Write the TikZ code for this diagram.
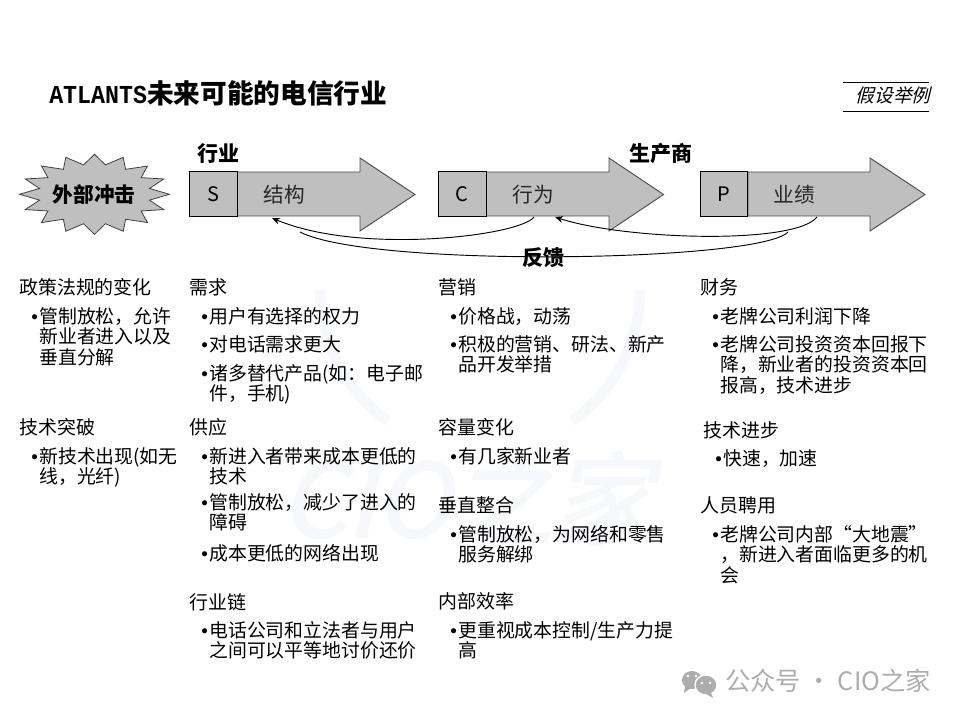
\documentclass[tikz,border=0pt]{standalone}
\usepackage{fontspec}
\setmainfont{Noto Sans CJK SC}
\newfontfamily\slantcjk[FakeSlant=0.25]{Noto Sans CJK SC}
\newfontfamily\slantbold[FakeSlant=0.2,FakeBold=2]{Noto Sans CJK SC}
\newfontfamily\titlemono[FakeStretch=0.9]{Liberation Mono}
\newfontfamily\bulfont{Liberation Sans}
\newcommand{\bulmark}{\makebox[6pt][l]{\bulfont •}}
\newcommand{\contind}{\hspace*{6pt}}
\newcommand{\itemfont}{\fontsize{14.15}{15.4}\selectfont\setlength{\lineskiplimit}{-20pt}}
\usetikzlibrary{arrows.meta}
\definecolor{barfill}{HTML}{BFBFBF}
\definecolor{wm}{HTML}{ADADAD}
\definecolor{wmfaint}{HTML}{F7F8FB}
\tikzset{
  x=0.75pt,y=-0.75pt,
  head/.style={anchor=base west,inner sep=0pt,font=\fontsize{14.2}{15}\selectfont},
  item/.style={anchor=north west,inner sep=0pt,align=left,font=\itemfont},
  band/.style={draw=black!70,fill=barfill,line width=0.7pt},
  lettbox/.style={draw=black,fill=barfill,line width=0.8pt,minimum width=35.6pt,minimum height=33.4pt,inner sep=0pt,font=\fontsize{15}{16}\selectfont},
  barlabel/.style={inner sep=0pt,text=black!85,font=\fontsize{15.5}{16}\selectfont},
  grouplabel/.style={inner sep=0pt,font=\fontsize{15.75}{17}\selectfont\bfseries},
  fb/.style={line width=0.7pt,black},
  fbtip/.style={fb,-{Stealth[length=6pt,width=5pt]}},
}
\begin{document}
\begin{tikzpicture}
\useasboundingbox (0,0) rectangle (960,720);
% faint watermark
\draw[wmfaint,line width=8pt] (640,290) arc[start angle=0,delta angle=55,radius=160];
\draw[wmfaint,line width=8pt] (320,290) arc[start angle=180,delta angle=-55,radius=160];
\node[inner sep=0pt,text=wmfaint,font=\fontsize{76}{76}\selectfont\slantbold] (wmk) at (468,498) {CIO之家};
% title
\node[anchor=base west,inner sep=0pt] (title) at (49,104) {{\titlemono\bfseries\fontsize{19.4}{20}\selectfont ATLANTS}{\fontsize{20}{22}\selectfont\bfseries 未来可能的电信行业}};
% stamp
\coordinate (st1) at (843,82); \coordinate (st2) at (929,82);
\coordinate (st3) at (843,111); \coordinate (st4) at (929,111);
\draw[line width=0.6pt] (st1) -- (st2);
\draw[line width=0.6pt] (st3) -- (st4);
\node[inner sep=0pt,font=\fontsize{14}{16}\selectfont\slantcjk] (stamp) at (893,95) {假设举例};
% star
\draw[draw=black!75,fill=barfill,line width=0.6pt] (169.5,194.3)
  \foreach \k in {0,...,15} { -- ({94.5+56*cos(\k*22.5+11.25)},{194.3+30*sin(\k*22.5+11.25)}) -- ({94.5+75*cos(\k*22.5+22.5)},{194.3+40*sin(\k*22.5+22.5)}) } -- cycle;
\node[inner sep=0pt,font=\fontsize{15.5}{16}\selectfont\bfseries] (shock) at (94,195) {外部冲击};
% bands
\draw[band] (237,172) -- (360,172) -- (360,158) -- (415,194.5) -- (360,231) -- (360,216) -- (237,216) -- cycle;
\draw[band] (486,172) -- (609,172) -- (609,158) -- (663.5,194.5) -- (609,231) -- (609,216) -- (486,216) -- cycle;
\draw[band] (748,172) -- (870,172) -- (870,158) -- (925,194.5) -- (870,231) -- (870,216) -- (748,216) -- cycle;
\node[lettbox] (S) at (213.5,194) {S};
\node[lettbox] (C) at (462.3,194) {C};
\node[lettbox] (P) at (724,194) {P};
\node[barlabel] (lbS) at (284,195) {结构};
\node[barlabel] (lbC) at (533,195) {行为};
\node[barlabel] (lbP) at (794,195) {业绩};
\node[grouplabel] (gi) at (218.5,154) {行业};
\node[grouplabel] (gp) at (660.5,154) {生产商};
% feedback
\coordinate (a1) at (272,218); \coordinate (a2) at (534,217);
\coordinate (m1) at (300,232); \coordinate (b2) at (788,232);
\coordinate (a3) at (555,217); \coordinate (b3) at (817,217);
\draw[fbtip] (a2) .. controls (520,236) and (360,255) .. (a1);
\draw[fb] (b2) .. controls (760,262) and (370,268) .. (m1);
\draw[fbtip] (b3) .. controls (795,245) and (625,240) .. (a3);
\node[grouplabel] (fbk) at (543,258) {反馈};
% column 1
\node[head] (h11) at (19,295) {政策法规的变化};
\node[item] (i11) at (31,307) {\bulmark 管制放松，允许\\\contind 新业者进入以及\\\contind 垂直分解};
\node[head] (h12) at (19,434) {技术突破};
\node[item] (i12) at (31,447) {\bulmark 新技术出现(如无\\\contind 线，光纤)};
% column 2
\node[head] (h21) at (189,295) {需求};
\node[item] (i21) at (201,307) {\bulmark 用户有选择的权力};
\node[item] (i22) at (201,335) {\bulmark 对电话需求更大};
\node[item] (i23) at (201,364) {\bulmark 诸多替代产品(如：电子邮\\\contind 件，手机)};
\node[head] (h22) at (189,434) {供应};
\node[item] (i24) at (201,447) {\bulmark 新进入者带来成本更低的\\\contind 技术};
\node[item] (i25) at (201,493) {\bulmark 管制放松，减少了进入的\\\contind 障碍};
\node[item] (i26) at (201,544) {\bulmark 成本更低的网络出现};
\node[head] (h23) at (189,609) {行业链};
\node[item] (i27) at (201,621) {\bulmark 电话公司和立法者与用户\\\contind 之间可以平等地讨价还价};
% column 3
\node[head] (h31) at (438,295) {营销};
\node[item] (i31) at (450,307) {\bulmark 价格战，动荡};
\node[item] (i32) at (450,335) {\bulmark 积极的营销、研法、新产\\\contind 品开发举措};
\node[head] (h32) at (438,434) {容量变化};
\node[item] (i33) at (450,447) {\bulmark 有几家新业者};
\node[head] (h33) at (438,512) {垂直整合};
\node[item] (i34) at (450,525) {\bulmark 管制放松，为网络和零售\\\contind 服务解绑};
\node[head] (h34) at (438,608) {内部效率};
\node[item] (i35) at (450,621) {\bulmark 更重视成本控制/生产力提\\\contind 高};
% column 4
\node[head] (h41) at (700,295) {财务};
\node[item] (i41) at (712,307) {\bulmark 老牌公司利润下降};
\node[item] (i42) at (712,335) {\bulmark 老牌公司投资资本回报下\\\contind 降，新业者的投资资本回\\\contind 报高，技术进步};
\node[head] (h42) at (703,437) {技术进步};
\node[item] (i43) at (715,449) {\bulmark 快速，加速};
\node[head] (h43) at (700,512) {人员聘用};
\node[item] (i44) at (712,525) {\bulmark 老牌公司内部“大地震”\\\contind ，新进入者面临更多的机\\\contind 会};
% wechat mark
\fill[wm] (692,680) ellipse (10 and 9);
\fill[wm] (685,686) -- (684,693) -- (691,688) -- cycle;
\draw[white,fill=wm,line width=1pt] (706,685) ellipse (11 and 10);
\fill[wm] (711,693) -- (713,698) -- (706,694) -- cycle;
\fill[white] (688,676) circle (1.3) (696,676) circle (1.3) (702,683) circle (1.3) (710,683) circle (1.3);
\node[anchor=base west,inner sep=0pt,text=wm,font=\fontsize{19}{20}\selectfont] (wmtext) at (725,690) {公众号 · CIO之家};
\end{tikzpicture}
\end{document}
